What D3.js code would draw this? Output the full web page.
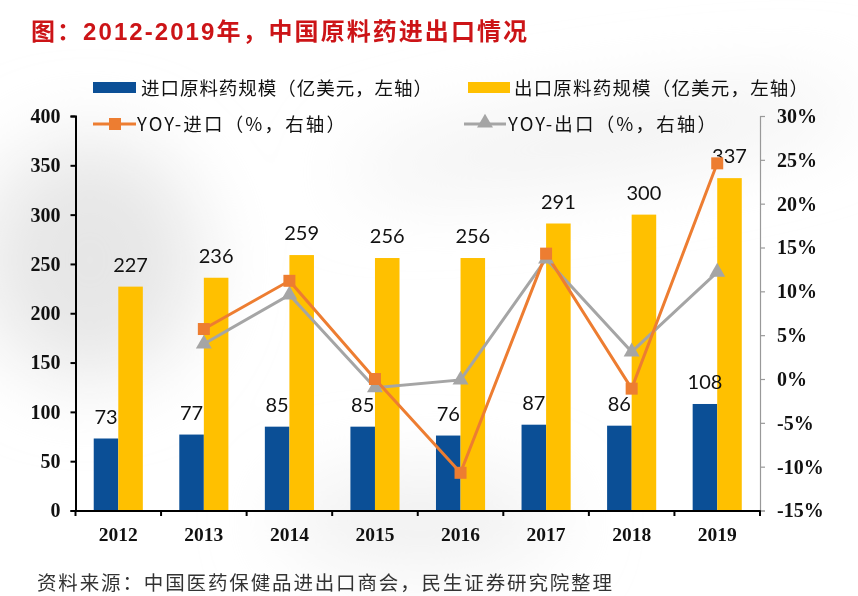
<!DOCTYPE html>
<html><head><meta charset="utf-8">
<script src="https://cdn.jsdelivr.net/npm/d3@7/dist/d3.min.js"></script>
<style>body{margin:0;background:#fff}svg{display:block}</style>
</head><body>
<svg id="chart" width="858" height="596"></svg>
<script>
const years = ['2012','2013','2014','2015','2016','2017','2018','2019'];
const importVals = [73,77,85,85,76,87,86,108];
const exportVals = [227,236,259,256,256,291,300,337];
const importYoY = [null,5.7,11.2,0.0,-10.7,14.3,-1.1,24.6];
const exportYoY = [null,4.0,9.6,-1.0,-0.1,13.7,3.1,12.2];
const leftTicks = [0,50,100,150,200,250,300,350,400];
const rightTicks = [-15,-10,-5,0,5,10,15,20,25,30];
const titleText = '图：2012-2019年，中国原料药进出口情况';
const legendLabels = ['进口原料药规模（亿美元，左轴）','出口原料药规模（亿美元，左轴）','YOY-进口（%，右轴）','YOY-出口（%，右轴）'];
const sourceText = '资料来源：中国医药保健品进出口商会，民生证券研究院整理';

const BLUE = '#0B4F96', YELLOW = '#FFC000', ORANGE = '#ED7D31', GRAY = '#A5A5A5';
const svg = d3.select('#chart');

// soft background shading
const defs = svg.append('defs');
const f = defs.append('filter').attr('id','blur').attr('x','-50%').attr('y','-50%').attr('width','200%').attr('height','200%');
f.append('feGaussianBlur').attr('stdDeviation',40);
const bg = svg.append('g').attr('filter','url(#blur)');
bg.append('ellipse').attr('cx',90).attr('cy',260).attr('rx',110).attr('ry',120).attr('fill','#e6e6e6');
bg.append('ellipse').attr('cx',600).attr('cy',140).attr('rx',260).attr('ry',28).attr('fill','#ececec').attr('transform','rotate(-8,600,140)');
bg.append('ellipse').attr('cx',420).attr('cy',520).attr('rx',140).attr('ry',40).attr('fill','#ededed');

const x = d3.scaleBand().domain(years).range([75.5, 760]).paddingInner(0).paddingOuter(0);
const y = d3.scaleLinear().domain([0,400]).range([510.5,116]);
const yR = d3.scaleLinear().domain([-15,30]).range([510.5,116]);
const bw = x.bandwidth()*0.287;
const cx = d => x(d) + x.bandwidth()/2;

// title
svg.append('text').attr('x',31).attr('y',40).attr('fill','#CC1417')
  .attr('font-family','Liberation Sans, Noto Sans CJK SC, sans-serif').attr('font-weight','bold')
  .attr('font-size',24).attr('textLength',496).attr('lengthAdjust','spacing').text(titleText);

// bars
svg.append('g').selectAll('rect').data(years).join('rect')
  .attr('x',(d)=>cx(d)-bw).attr('width',bw)
  .attr('y',(d,i)=>y(importVals[i])).attr('height',(d,i)=>y(0)-y(importVals[i])).attr('fill',BLUE);
svg.append('g').selectAll('rect').data(years).join('rect')
  .attr('x',(d)=>cx(d)).attr('width',bw)
  .attr('y',(d,i)=>y(exportVals[i])).attr('height',(d,i)=>y(0)-y(exportVals[i])).attr('fill',YELLOW);

// bar labels
const lblFont = 'Lato, Open Sans, sans-serif';
svg.append('g').selectAll('text').data(years).join('text')
  .attr('x',d=>cx(d)-bw/2).attr('y',(d,i)=>y(importVals[i])-15).attr('text-anchor','middle')
  .attr('font-family',lblFont).attr('font-size',20).attr('fill','#111').text((d,i)=>importVals[i]);
svg.append('g').selectAll('text').data(years).join('text')
  .attr('x',d=>cx(d)+bw/2).attr('y',(d,i)=>y(exportVals[i])-15).attr('text-anchor','middle')
  .attr('font-family',lblFont).attr('font-size',20).attr('fill','#111').text((d,i)=>exportVals[i]);

// axes
const tickFont = 'Liberation Serif, Times New Roman, serif';
const gL = svg.append('g').attr('transform','translate(75.5,0)')
  .call(d3.axisLeft(y).tickValues(leftTicks).tickSize(5).tickPadding(10));
gL.select('.domain').attr('stroke','#000').attr('stroke-width',2);
gL.selectAll('.tick line').attr('stroke','#000').attr('stroke-width',2);
gL.selectAll('text').attr('font-family',tickFont).attr('font-weight','bold').attr('font-size',20).attr('fill','#111');

const gR = svg.append('g').attr('transform','translate(760,0)')
  .call(d3.axisRight(yR).tickValues(rightTicks).tickSize(5).tickPadding(12).tickFormat(d=>d+'%'));
gR.select('.domain').attr('stroke','#999').attr('stroke-width',1.2);
gR.selectAll('.tick line').attr('stroke','#999').attr('stroke-width',1.2);
gR.selectAll('text').attr('font-family',tickFont).attr('font-weight','bold').attr('font-size',20).attr('fill','#111');

const gB = svg.append('g').attr('transform','translate(0,510.5)')
  .call(d3.axisBottom(x).tickSize(0).tickPadding(17));
gB.select('.domain').attr('stroke','#000').attr('stroke-width',2);
gB.selectAll('text').attr('font-family',tickFont).attr('font-weight','bold').attr('font-size',19.5).attr('fill','#111');
// category boundary ticks
const bounds = years.map(d=>x(d)).concat([x(years[years.length-1])+x.bandwidth()]);
svg.append('g').selectAll('line').data(bounds).join('line')
  .attr('x1',d=>d).attr('x2',d=>d).attr('y1',510.5).attr('y2',516).attr('stroke','#000').attr('stroke-width',2);

// lines
const line = d3.line().defined(d=>d[1]!==null).x(d=>cx(d[0])).y(d=>yR(d[1]));
const impPts = years.map((d,i)=>[d,importYoY[i]]);
const expPts = years.map((d,i)=>[d,exportYoY[i]]);
svg.append('path').datum(expPts).attr('d',line).attr('fill','none').attr('stroke',GRAY).attr('stroke-width',3);
svg.append('path').datum(impPts).attr('d',line).attr('fill','none').attr('stroke',ORANGE).attr('stroke-width',3);
const tri = d3.symbol().type(d3.symbolTriangle).size(110);
svg.append('g').selectAll('path').data(expPts.filter(d=>d[1]!==null)).join('path')
  .attr('d',tri).attr('transform',d=>`translate(${cx(d[0])},${yR(d[1])})`).attr('fill',GRAY);
svg.append('g').selectAll('rect').data(impPts.filter(d=>d[1]!==null)).join('rect')
  .attr('x',d=>cx(d[0])-6).attr('y',d=>yR(d[1])-6).attr('width',12).attr('height',12).attr('fill',ORANGE);

// legend
const legFont = 'Noto Sans CJK SC, sans-serif';
const lg = svg.append('g');
lg.append('rect').attr('x',93).attr('y',82).attr('width',43).attr('height',11).attr('fill',BLUE);
lg.append('rect').attr('x',468).attr('y',82).attr('width',42).attr('height',11).attr('fill',YELLOW);
lg.append('line').attr('x1',93).attr('x2',136).attr('y1',124).attr('y2',124).attr('stroke',ORANGE).attr('stroke-width',3);
lg.append('rect').attr('x',109).attr('y',118).attr('width',12).attr('height',12).attr('fill',ORANGE);
lg.append('line').attr('x1',464).attr('x2',506).attr('y1',124).attr('y2',124).attr('stroke',GRAY).attr('stroke-width',3);
lg.append('path').attr('d',tri).attr('transform','translate(485,123)').attr('fill',GRAY);
const legPos = [[141,94.5,291],[514,94.5,294],[137,130.5,208],[508,130.5,208]];
lg.selectAll('text.leg').data(legendLabels).join('text').attr('class','leg')
  .attr('x',(d,i)=>legPos[i][0]).attr('y',(d,i)=>legPos[i][1])
  .attr('textLength',(d,i)=>legPos[i][2]).attr('lengthAdjust','spacing')
  .attr('font-family',legFont).attr('font-size',18.5).attr('fill','#111').text(d=>d);

// source
svg.append('text').attr('x',37).attr('y',590).attr('font-family',legFont).attr('font-size',19.5)
  .attr('fill','#333').attr('textLength',575).attr('lengthAdjust','spacing').text(sourceText);
</script>
</body></html>
